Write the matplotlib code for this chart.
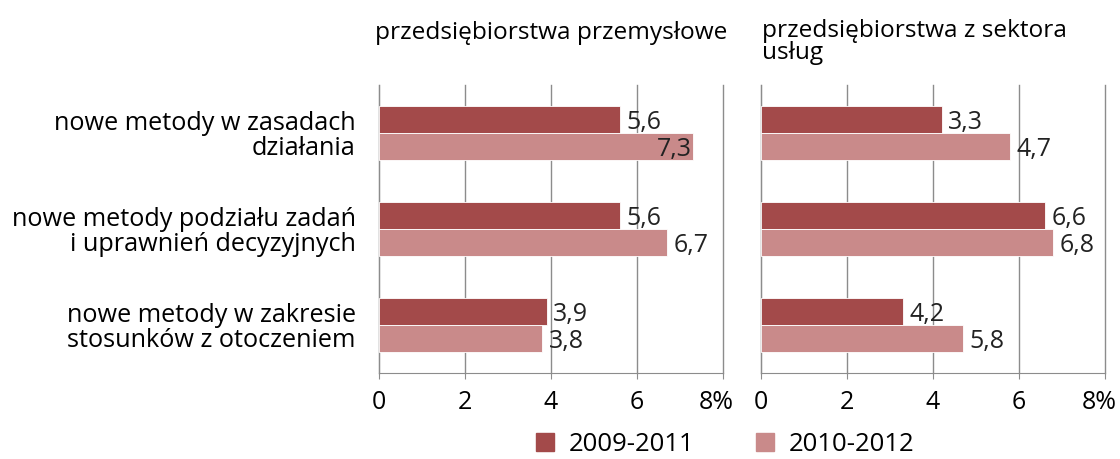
import matplotlib
matplotlib.use("Agg")
import matplotlib.pyplot as plt
import matplotlib.transforms as mtransforms
import numpy as np

plt.rcParams['font.family'] = ['Open Sans', 'DejaVu Sans']

categories = [
    "nowe metody w zasadach\ndziałania",
    "nowe metody podziału zadań\ni uprawnień decyzyjnych",
    "nowe metody w zakresie\nstosunków z otoczeniem",
]
periods = ["2009-2011", "2010-2012"]
panel_titles = ["przedsiębiorstwa przemysłowe", "przedsiębiorstwa z sektora\nusług"]

# bar lengths as drawn
industry_0911 = [5.6, 5.6, 3.9]
industry_1012 = [7.3, 6.7, 3.8]
services_0911 = [4.2, 6.6, 3.3]
services_1012 = [5.8, 6.8, 4.7]

# labels as printed (services labels don't match bar lengths in the source)
industry_lbl_0911 = ["5,6", "5,6", "3,9"]
industry_lbl_1012 = ["7,3", "6,7", "3,8"]
services_lbl_0911 = ["3,3", "6,6", "4,2"]
services_lbl_1012 = ["4,7", "6,8", "5,8"]

xticks = [0, 2, 4, 6, 8]
xticklabels = ["0", "2", "4", "6", "8%"]

dark = "#a34a4a"
light = "#c98a8a"
grid_col = "#8c8c8c"

fig = plt.figure(figsize=(11.2, 4.59), dpi=100)
ax1 = fig.add_axes([0.3387, 0.1874, 0.3066, 0.6275])
ax2 = fig.add_axes([0.6795, 0.1874, 0.3071, 0.6275])

panels = [
    (ax1, industry_0911, industry_1012, industry_lbl_0911, industry_lbl_1012),
    (ax2, services_0911, services_1012, services_lbl_0911, services_lbl_1012),
]

y = np.arange(len(categories))
h = 0.28
for ax, v1, v2, l1, l2 in panels:
    ax.barh(y - h / 2, v1, height=h, color=dark, edgecolor="white", linewidth=0.6, zorder=3)
    ax.barh(y + h / 2, v2, height=h, color=light, edgecolor="white", linewidth=0.6, zorder=3)
    for yy, vals, lbls in ((y - h / 2, v1, l1), (y + h / 2, v2, l2)):
        for yi, v, lb in zip(yy, vals, lbls):
            if v > 7:
                ax.text(v - 0.02, yi + 0.03, lb, ha="right", va="center", fontsize=18, color="#222222", zorder=4)
            else:
                ax.text(v + 0.15, yi + 0.03, lb, ha="left", va="center", fontsize=18, color="#222222", zorder=4)
    ax.set_xlim(0, 8)
    ax.set_ylim(2.5, -0.5)
    ax.set_xticks(xticks)
    ax.set_xticklabels(xticklabels, fontsize=18)
    ax.xaxis.grid(True, color=grid_col, linewidth=1.0, zorder=0)
    for gl in ax.get_xgridlines():
        gl.set_clip_on(False)
    ax.set_yticks([])
    for s in ("top", "right"):
        ax.spines[s].set_visible(False)
    ax.spines["left"].set_color(grid_col)
    ax.spines["bottom"].set_color(grid_col)
    ax.tick_params(axis="x", direction="out", length=4, color=grid_col, pad=8)
    # last label sits a bit left of its tick in the source
    last = ax.get_xticklabels()[-1]
    last.set_transform(last.get_transform() + mtransforms.ScaledTranslation(-6 / 100, 0, fig.dpi_scale_trans))

ax1.set_yticks(y)
ax1.set_yticklabels(categories, fontsize=18.2, linespacing=1.0)
ax1.tick_params(axis="y", length=0, pad=17)

fig.text(375 / 1120, 1 - 33 / 459, panel_titles[0], ha="left", va="center", fontsize=17.6)
fig.text(762 / 1120, 1 - 42 / 459, panel_titles[1], ha="left", va="center", fontsize=17.6, linespacing=0.85)

handles = [plt.Rectangle((0, 0), 1, 1, color=dark), plt.Rectangle((0, 0), 1, 1, color=light)]
fig.legend(handles, periods, loc="center", bbox_to_anchor=(0.6475, 0.032), ncol=2, frameon=False,
           fontsize=18.5, handlelength=0.7, handleheight=0.7, columnspacing=2.4, handletextpad=0.58,
           borderpad=0.0)

fig.savefig("out.png", dpi=100)
